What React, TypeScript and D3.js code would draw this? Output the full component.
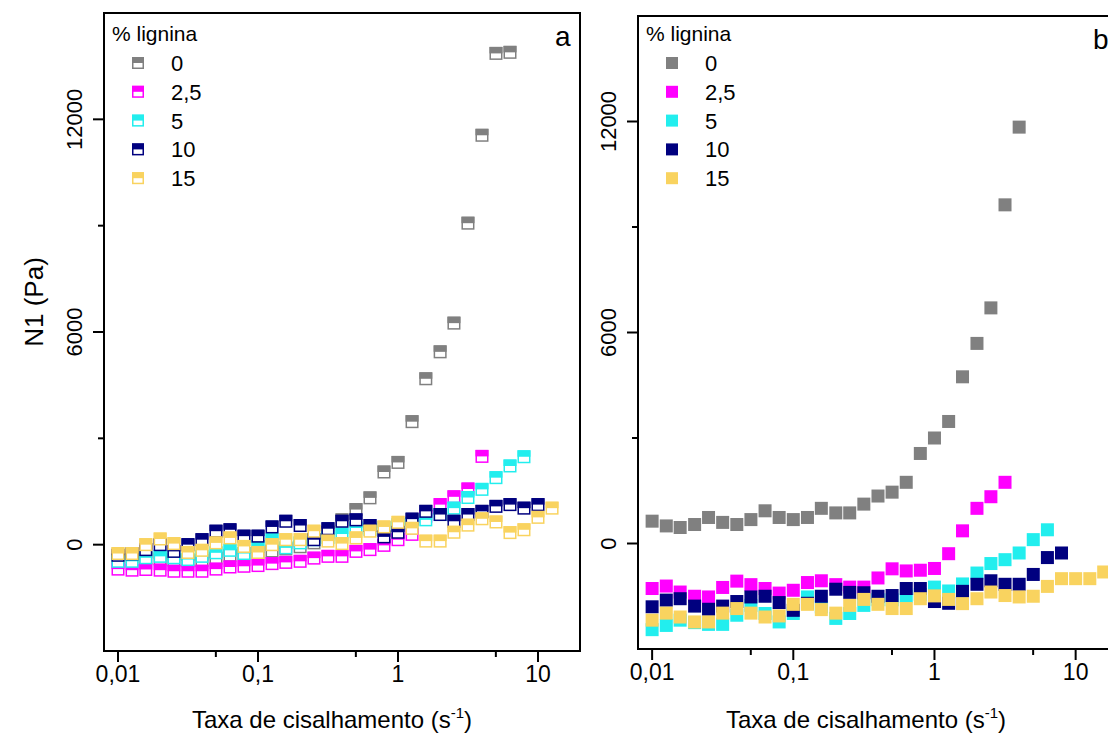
import React, { useEffect, useRef } from "react";
import * as d3 from "d3";

const W = 1108;
const H = 746;
const FONT = "'Liberation Sans', Arial, sans-serif";

// shear rate grid (s^-1), same for every series
const shearRate = [
  0.01, 0.0126, 0.0158, 0.02, 0.0251, 0.0316, 0.0398, 0.0501, 0.0631, 0.0794,
  0.1, 0.126, 0.158, 0.2, 0.251, 0.316, 0.398, 0.501, 0.631, 0.794,
  1, 1.26, 1.58, 2, 2.51, 3.16, 3.98, 5.01, 6.31, 7.94,
  10, 12.6, 15.8,
];

const ligninLevels = ["0", "2,5", "5", "10", "15"];
const ligninColors = ["#808080", "#ff00ff", "#22eeee", "#00007f", "#f9d35f"];

// panel a  (N1, Pa)
const a0 = [-350, -350, -380, -400, -430, -460, -450, -380, -300, -250, -230, -180, -120, -60, 50, 350, 700, 990, 1320, 2050, 2320, 3470, 4680, 5440, 6250, 9070, 11550, 13860, 13890];
const a25 = [-690, -720, -700, -720, -750, -750, -750, -690, -630, -610, -590, -535, -500, -470, -380, -330, -330, -190, -140, -20, 140, 290, 800, 1130, 1350, 1570, 2490];
const a5 = [-470, -470, -370, -330, -370, -420, -330, -230, -160, -250, -50, 140, -90, 50, 140, 200, 300, 470, 430, 480, 560, 600, 700, 850, 1030, 1330, 1560, 1890, 2220, 2480];
const a10 = [-300, -260, -140, 0, -190, 0, 140, 380, 420, 240, 240, 500, 660, 540, 140, 450, 660, 700, 540, 220, 350, 720, 940, 850, 660, 850, 940, 1080, 1130, 1030, 1130];
const a15 = [-250, -250, 0, 160, 30, -220, -160, 50, 190, -50, -220, 0, 140, 140, 380, 100, 30, 190, 380, 500, 630, 460, 100, 100, 350, 550, 730, 640, 340, 420, 770, 1030];

// panel b
const b0 = [635, 500, 455, 540, 740, 600, 540, 680, 930, 740, 680, 740, 1000, 870, 870, 1120, 1350, 1460, 1740, 2560, 3000, 3470, 4740, 5690, 6700, 9630, 11840];
const b25 = [-1280, -1210, -1380, -1500, -1520, -1250, -1070, -1170, -1280, -1410, -1330, -1110, -1060, -1170, -1240, -1240, -980, -720, -780, -760, -710, -290, 360, 1000, 1330, 1740];
const b5 = [-2450, -2330, -2180, -2250, -2300, -2300, -2040, -1760, -1990, -2230, -1990, -1520, -1800, -2130, -1990, -1760, -1600, -1600, -1500, -1450, -1240, -1350, -1150, -840, -570, -460, -270, 110, 390];
const b10 = [-1800, -1610, -1570, -1780, -1870, -1780, -1650, -1520, -1500, -1680, -1900, -1700, -1500, -1300, -1390, -1400, -1500, -1480, -1280, -1280, -1650, -1700, -1360, -1160, -1060, -1160, -1160, -880, -400, -270];
const b15 = [-2180, -1980, -2090, -2230, -2230, -1980, -1850, -1980, -2090, -2060, -1730, -1730, -1880, -1980, -1760, -1590, -1730, -1850, -1850, -1570, -1490, -1590, -1710, -1570, -1380, -1480, -1520, -1500, -1220, -1000, -1000, -1000, -810];

const yMajor = [0, 6000, 12000];
const yMinor = [3000, 9000];
const xMajor = [0.01, 0.1, 1, 10];
const xMajorLabels = ["0,01", "0,1", "1", "10"];
const xMinor = [0.05, 0.5, 5];

type Panel = {
  left: number; right: number; top: number; bottom: number;
  data: number[][]; hollow: boolean; tag: string; titleX: number;
};

function drawPanel(svg: any, p: Panel) {
  const x = d3.scaleLog().domain([Math.pow(10, -2.1), Math.pow(10, 1.3)]).range([p.left, p.right]);
  const y = d3.scaleLinear().domain([-3000, 15000]).range([p.bottom, p.top]);
  const g = svg.append("g");

  // frame
  g.append("rect")
    .attr("x", p.left).attr("y", p.top)
    .attr("width", p.right - p.left).attr("height", p.bottom - p.top)
    .attr("fill", "none").attr("stroke", "#000").attr("stroke-width", 2);

  // y ticks
  g.selectAll(".ymaj").data(yMajor).join("line")
    .attr("x1", p.left - 11).attr("x2", p.left)
    .attr("y1", (d: number) => y(d)).attr("y2", (d: number) => y(d))
    .attr("stroke", "#000").attr("stroke-width", 2);
  g.selectAll(".ymin").data(yMinor).join("line")
    .attr("x1", p.left - 6).attr("x2", p.left)
    .attr("y1", (d: number) => y(d)).attr("y2", (d: number) => y(d))
    .attr("stroke", "#000").attr("stroke-width", 2);
  g.selectAll(".ylab").data(yMajor).join("text")
    .attr("transform", (d: number) => `translate(${p.left - 22},${y(d)}) rotate(-90)`)
    .attr("text-anchor", "middle")
    .attr("font-family", FONT).attr("font-size", 22)
    .text((d: number) => String(d));

  // x ticks
  g.selectAll(".xmaj").data(xMajor).join("line")
    .attr("x1", (d: number) => x(d)).attr("x2", (d: number) => x(d))
    .attr("y1", p.bottom).attr("y2", p.bottom + 11)
    .attr("stroke", "#000").attr("stroke-width", 2);
  g.selectAll(".xmin").data(xMinor).join("line")
    .attr("x1", (d: number) => x(d)).attr("x2", (d: number) => x(d))
    .attr("y1", p.bottom).attr("y2", p.bottom + 6)
    .attr("stroke", "#000").attr("stroke-width", 2);
  g.selectAll(".xlab").data(xMajor).join("text")
    .attr("x", (d: number) => x(d)).attr("y", p.bottom + 31)
    .attr("text-anchor", "middle")
    .attr("font-family", FONT).attr("font-size", 23)
    .text((d: number, i: number) => xMajorLabels[i]);

  // x title
  const t = g.append("text")
    .attr("x", p.titleX).attr("y", 728)
    .attr("text-anchor", "middle")
    .attr("font-family", FONT).attr("font-size", 24);
  t.append("tspan").text("Taxa de cisalhamento (s");
  t.append("tspan").attr("font-size", 15).attr("dy", -10).text("-1");
  t.append("tspan").attr("dy", 10).text(")");

  // points
  const s = 13;
  p.data.forEach((vals, si) => {
    const col = ligninColors[si];
    const pts = vals.map((v, i) => [shearRate[i], v]);
    const mk = g.append("g").selectAll("g").data(pts).join("g")
      .attr("transform", (d: number[]) => `translate(${x(d[0])},${y(d[1])})`);
    if (p.hollow) {
      mk.append("rect").attr("x", -s / 2 + 0.75).attr("y", -s / 2 + 0.75)
        .attr("width", s - 1.5).attr("height", s - 1.5)
        .attr("fill", "#fff").attr("stroke", col).attr("stroke-width", 1.5);
      mk.append("rect").attr("x", -s / 2).attr("y", -s / 2)
        .attr("width", s).attr("height", s / 2).attr("fill", col);
    } else {
      mk.append("rect").attr("x", -s / 2).attr("y", -s / 2)
        .attr("width", s).attr("height", s).attr("fill", col);
    }
  });

  // legend
  const lx = p.left + 8;
  g.append("text").attr("x", lx).attr("y", 41)
    .attr("font-family", FONT).attr("font-size", 21).text("% lignina");
  ligninLevels.forEach((name, i) => {
    const cy = 63 + i * 28.8;
    const col = ligninColors[i];
    const m = 12;
    const mx = p.left + 34;
    if (p.hollow) {
      g.append("rect").attr("x", mx - m / 2 + 0.75).attr("y", cy - m / 2 + 0.75)
        .attr("width", m - 1.5).attr("height", m - 1.5)
        .attr("fill", "#fff").attr("stroke", col).attr("stroke-width", 1.5);
      g.append("rect").attr("x", mx - m / 2).attr("y", cy - m / 2)
        .attr("width", m).attr("height", m / 2).attr("fill", col);
    } else {
      g.append("rect").attr("x", mx - m / 2).attr("y", cy - m / 2)
        .attr("width", m).attr("height", m).attr("fill", col);
    }
    g.append("text").attr("x", p.left + 67).attr("y", cy + 8)
      .attr("font-family", FONT).attr("font-size", 22).text(name);
  });

  // panel tag
  g.append("text").attr("x", p.right - 25).attr("y", p.top + 33)
    .attr("font-family", FONT).attr("font-size", 28).text(p.tag);
}

export default function App() {
  const ref = useRef<SVGSVGElement>(null);

  useEffect(() => {
    const svg = d3.select(ref.current);
    svg.selectAll("*").remove();
    svg.append("rect").attr("width", W).attr("height", H).attr("fill", "#fff");

    drawPanel(svg, {
      left: 104, right: 580, top: 13, bottom: 651,
      data: [a0, a25, a5, a10, a15], hollow: true, tag: "a", titleX: 332,
    });
    drawPanel(svg, {
      left: 638, right: 1118, top: 16, bottom: 649,
      data: [b0, b25, b5, b10, b15], hollow: false, tag: "b", titleX: 866,
    });

    svg.append("text")
      .attr("transform", "translate(43,302) rotate(-90)")
      .attr("text-anchor", "middle")
      .attr("font-family", FONT).attr("font-size", 26)
      .text("N1 (Pa)");
  }, []);

  return (
    <svg ref={ref} width={W} height={H}
      style={{ position: "absolute", left: 0, top: 0, display: "block" }} />
  );
}
